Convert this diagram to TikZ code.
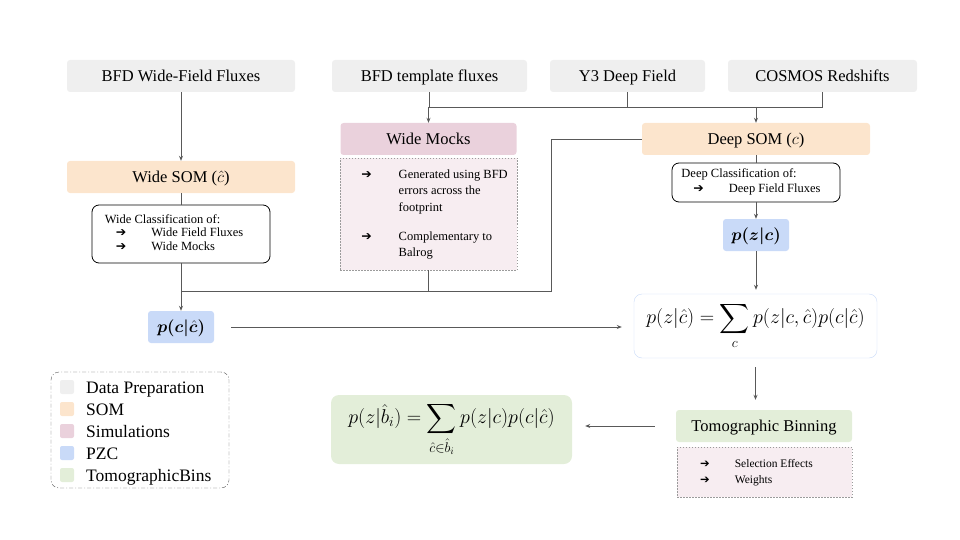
\RequirePackage{fix-cm}
\documentclass[tikz,border=0pt]{standalone}
\usepackage{amsmath,bm}
\usepackage{fontspec}
\setmainfont{Liberation Serif}
\newfontfamily\symfont{DejaVu Sans}
\usetikzlibrary{arrows.meta}

\definecolor{dataprep}{HTML}{EFEFEF}
\definecolor{somcol}{HTML}{FCE5CD}
\definecolor{simcol}{HTML}{EAD1DC}
\definecolor{simlight}{HTML}{F7EDF1}
\definecolor{pzccol}{HTML}{C9DAF8}
\definecolor{bincol}{HTML}{E3EED9}
\definecolor{linecol}{HTML}{595959}

\newcommand{\bul}{{\symfont ➔}}

\tikzset{
  % coloured step boxes
  stepbox/.style={rounded corners=3pt, minimum height=32pt, inner sep=0pt,
    text height=13pt, text depth=2pt, font=\fontsize{16.5}{18}\selectfont},
  databox/.style={stepbox, fill=dataprep},
  sombox/.style={stepbox, fill=somcol},
  simbox/.style={stepbox, fill=simcol},
  pzcbox/.style={stepbox, fill=pzccol, minimum width=66pt, font=\fontsize{17}{18}\selectfont},
  binbox/.style={stepbox, fill=bincol},
  % boxes holding bullet lists
  classbox/.style={draw=black, fill=white, rounded corners=7pt, line width=0.8pt, inner sep=0pt},
  notebox/.style={draw=linecol!60, dash pattern=on 1.5pt off 1.5pt, fill=simlight, inner sep=0pt},
  formulabox/.style={rounded corners=8pt, inner sep=0pt, font=\fontsize{20}{22}\selectfont},
  % connectors
  link/.style={draw=linecol, line width=0.8pt},
  flow/.style={link, -{Stealth[length=5pt,width=4pt]}},
}

\begin{document}
\begin{tikzpicture}[x=1pt, y=-1pt]
\useasboundingbox (0,0) rectangle (960,540);

% Data preparation
\node[databox, minimum width=228pt] (bfdwide) at (181,76) {BFD Wide-Field Fluxes};
\node[databox, minimum width=195pt] (bfdtemp) at (429.5,76) {BFD template fluxes};
\node[databox, minimum width=155pt] (y3deep) at (627.5,76) {Y3 Deep Field};
\node[databox, minimum width=189pt] (cosmos) at (822.5,76) {COSMOS Redshifts};

% SOMs
\node[sombox, minimum width=228pt] (widesom) at (181,177) {Wide SOM ($\hat{c}$)};
\node[sombox, minimum width=228pt] (deepsom) at (756,139) {Deep SOM ($c$)};
\node[classbox, minimum width=178pt, minimum height=58pt, font=\fontsize{12.5}{13.5}\selectfont] (wideclass) at (181,234) {%
  \begin{tabular}{@{}l@{\hspace{25pt}}l@{}}
    \multicolumn{2}{@{}l@{}}{Wide Classification of:}\\
    \hspace*{11pt}\bul & Wide Field Fluxes\\
    \hspace*{11pt}\bul & Wide Mocks
  \end{tabular}\hspace*{14pt}};
\node[classbox, minimum width=168pt, minimum height=39pt, font=\fontsize{12.5}{15}\selectfont] (deepclass) at (756,182.5) {%
  \begin{tabular}{@{}l@{\hspace{25pt}}l@{}}
    \multicolumn{2}{@{}l@{}}{Deep Classification of:}\\
    \hspace*{12pt}\bul & Deep Field Fluxes
  \end{tabular}\hspace*{10pt}};

% Simulations
\node[simbox, minimum width=176pt] (widemocks) at (428.5,139) {Wide Mocks};
\node[notebox, minimum width=177pt, minimum height=112pt, font=\fontsize{12.5}{16.5}\selectfont] (mocknotes) at (428.5,214) {%
  \hspace*{12pt}\begin{tabular}{@{}l@{\hspace{27pt}}l@{}}
    \bul & Generated using BFD\\
         & errors across the\\
         & footprint\\[12.5pt]
    \bul & Complementary to\\
         & Balrog
  \end{tabular}};

% PZC
\node[pzcbox] (pzc) at (756,235) {$\bm{p(z|c)}$};
\node[pzcbox] (pcchat) at (181,327) {$\bm{p(c|\hat{c})}$};
\node[formulabox, draw=pzccol, fill=white, minimum width=243pt, minimum height=64pt] (pzchat) at (755.5,326)
  {$\displaystyle p(z|\hat{c}) = \sum_{c} p(z|c,\hat{c})p(c|\hat{c})$};

% Tomographic bins
\node[binbox, minimum width=176pt] (tomo) at (764,426) {Tomographic Binning};
\node[notebox, minimum width=175pt, minimum height=50pt, font=\fontsize{11.5}{16}\selectfont] (tomonotes) at (764.5,472) {%
  \begin{tabular}{@{}l@{\hspace{25pt}}l@{}}
    \bul & Selection Effects\\
    \bul & Weights
  \end{tabular}\hspace*{16pt}};
\node[formulabox, fill=bincol, minimum width=241pt, minimum height=69pt] (pbin) at (451.5,429.5)
  {$\displaystyle p(z|\hat{b}_i) = \sum_{\hat{c}\in\hat{b}_i} p(z|c)p(c|\hat{c})$};

% Connectors
\coordinate (topbus) at (0,107);
\coordinate (midbus) at (551,291);
\draw[link] (bfdtemp.south) -- (bfdtemp.south |- topbus) -- (cosmos.south |- topbus) -- (cosmos.south);
\draw[link] (y3deep.south) -- (y3deep.south |- topbus);
\draw[flow] (widemocks.north |- topbus) -- (widemocks.north);
\draw[flow] (deepsom.north |- topbus) -- (deepsom.north);
\draw[flow] (bfdwide) -- (widesom);
\draw[link] (widesom) -- (wideclass);
\draw[link] (deepsom) -- (deepclass);
\draw[flow] (deepclass) -- (pzc);
\draw[link] (deepsom.west) -| (midbus) -- (midbus -| wideclass.south);
\draw[link] (mocknotes.south) -- (mocknotes.south |- midbus);
\draw[flow] (wideclass) -- (pcchat);
\draw[flow, shorten <=17pt, shorten >=12pt] (pcchat.east) -- (pzchat.west |- pcchat.east);
\draw[flow, shorten >=4pt] (pzc.south) -- (pzc.south |- pzchat.north);
\draw[flow, shorten <=9pt, shorten >=10pt] (pzchat.south) -- (pzchat.south |- tomo.north);
\draw[flow, shorten <=21pt, shorten >=13pt] (tomo.west) -- (tomo.west -| pbin.east);

% Legend
\node[draw=linecol, dash pattern=on 4pt off 2pt on 1pt off 2pt, rounded corners=8pt,
  minimum width=178pt, minimum height=116pt] (legend) at (140,430) {};
\foreach \col/\lab [count=\i] in {dataprep/Data Preparation, somcol/SOM, simcol/Simulations,
    pzccol/PZC, bincol/TomographicBins} {
  \node[fill=\col, rounded corners=2pt, minimum size=14pt, inner sep=0pt] (swatch\i) at (67,365+22*\i) {};
  \node[anchor=base west, inner sep=0pt, font=\fontsize{17.5}{18}\selectfont] (legend\i) at (86,371+22*\i) {\lab};
}

\end{tikzpicture}
\end{document}
